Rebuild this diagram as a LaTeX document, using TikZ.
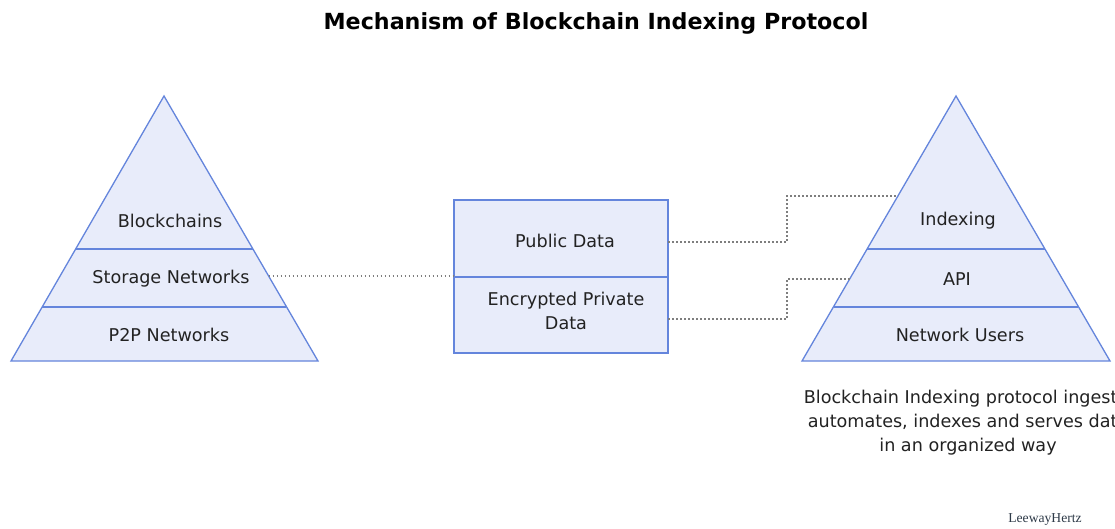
\documentclass[tikz,border=0pt]{standalone}
\usepackage{fontspec}
\setmainfont{DejaVu Sans}
\newfontfamily\logofont{Liberation Serif}
\definecolor{bandfill}{HTML}{E8ECFA}
\definecolor{bandline}{HTML}{6485DC}
\definecolor{dotline}{HTML}{7E7E7E}
\definecolor{txt}{HTML}{222222}
\definecolor{logocol}{HTML}{2E3A48}
\begin{document}
\begin{tikzpicture}[x=1pt,y=-1pt,
  shapeline/.style={draw=bandline,line width=1.3pt,fill=bandfill,line join=miter},
  bandsep/.style={draw=bandline,line width=1.3pt},
  lbl/.style={text=txt,font=\fontsize{17.6}{24}\selectfont,inner sep=0pt,align=center},
  link/.style={draw=dotline,line width=1.6pt,dash pattern=on 1.6pt off 2.4pt}]
\useasboundingbox (0,0) rectangle (1115,529);
\clip (0,0) rectangle (1115,529);
\fill[white] (0,0) rectangle (1115,529);

% title
\node[text=black,font=\bfseries\fontsize{22.2}{26}\selectfont,inner sep=0pt] (title) at (596,23) {Mechanism of Blockchain Indexing Protocol};

% left triangle
\path[shapeline] (164,96) -- (318,361) -- (11,361) -- cycle;
\draw[bandsep] (75.5,249) -- (252.7,249);
\draw[bandsep] (42,307) -- (286,307);
\node[lbl] (blk) at (170,221) {Blockchains};
\node[lbl] (stor) at (171,279) {Storage Networks};
\node[lbl] (p2p) at (169,335) {P2P Networks};
\coordinate (storR) at (268.5,276);

% middle box
\path[shapeline] (454,200) rectangle (668,353);
\draw[bandsep] (454,277) -- (668,277);
\node[lbl] (pub) at (565,241) {Public Data};
\node[lbl] (enc) at (566,311) {Encrypted Private\\Data};
\coordinate (boxL) at (454,276);
\coordinate (pubR) at (668,242);
\coordinate (encR) at (668,319);

% right triangle
\path[shapeline] (956,96) -- (1110,361) -- (802,361) -- cycle;
\draw[bandsep] (867,249) -- (1045,249);
\draw[bandsep] (834,307) -- (1078,307);
\node[lbl] (idx) at (958,221) {Indexing};
\node[lbl] (api) at (957,279) {API};
\node[lbl] (users) at (960,335) {Network Users};
\coordinate (idxL) at (898,196);
\coordinate (apiL) at (850,279);

% connectors
\draw[link] (storR) -- (boxL);
\draw[link] (pubR) -- (787,242) |- (idxL);
\draw[link] (encR) -- (787,319) |- (apiL);

% caption
\node[lbl] (cap) at (968,423) {Blockchain Indexing protocol ingests,\\automates, indexes and serves data\\in an organized way};

% logo
\node[text=logocol,font=\logofont\fontsize{13.6}{16}\selectfont,inner sep=0pt] (logo) at (1045,520) {LeewayHertz};
\end{tikzpicture}
\end{document}
